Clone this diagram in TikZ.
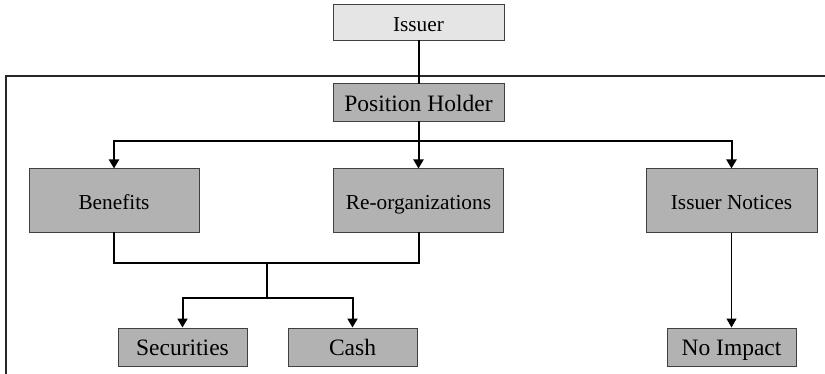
\documentclass[tikz,border=0pt]{standalone}
\usepackage{fontspec}
\setmainfont{Liberation Serif}
\usepackage{tikz}
\usepackage{xcolor}
\usetikzlibrary{arrows.meta}

\tikzset{
  box/.style={draw=black!75, line width=1pt, fill=black!30, inner sep=0pt,
    text height=17pt, text depth=0pt},
  smalltext/.style={font=\fontsize{21.3}{24}\selectfont},
  bigtext/.style={font=\fontsize{23.5}{26}\selectfont},
  conn/.style={line width=2pt, line cap=rect},
  arr/.style={line width=2pt, -{Triangle[width=10pt,length=9pt]}},
  thinarr/.style={line width=1.1pt, -{Triangle[width=10pt,length=9pt]}}
}

\begin{document}
\begin{tikzpicture}[x=1pt,y=-1pt]

\useasboundingbox (0,0) rectangle (825,374);

% frame
\draw[line width=1.3pt, black!85] (6,374) -- (6,76) -- (825,76);

\node[box, smalltext, fill=black!10, minimum width=171, minimum height=36] (issuer) at (418.5,23) {Issuer};
\node[box, bigtext, minimum width=171, minimum height=38] (holder) at (418.5,103) {Position Holder};

\node[box, smalltext, minimum width=170, minimum height=64] (benefits) at (114,201) {Benefits};
\node[box, smalltext, minimum width=170, minimum height=64] (reorg) at (418.5,201) {Re-organizations};
\node[box, smalltext, minimum width=171, minimum height=64] (notices) at (731.5,201) {Issuer Notices};

\node[box, bigtext, minimum width=129, minimum height=38] (securities) at (182.5,347) {Securities};
\node[box, bigtext, minimum width=129, minimum height=38] (cash) at (352.5,347) {Cash};
\node[box, bigtext, minimum width=129, minimum height=38] (noimpact) at (731.5,347) {No Impact};

\coordinate (split) at (418.5,141);
\coordinate (merge) at (267,263);
\coordinate (fork) at (267,298);

\draw[conn] (issuer) -- (holder);
\draw[conn] (holder) -- (split);
\draw[arr] (split) -| (benefits);
\draw[arr] (split) -- (reorg);
\draw[arr] (split) -| (notices);

\draw[conn] (benefits) |- (merge);
\draw[conn] (reorg) |- (merge);
\draw[conn] (merge) -- (fork);
\draw[arr] (fork) -| (securities);
\draw[arr] (fork) -| (cash);

\draw[thinarr] (notices) -- (noimpact);

\end{tikzpicture}
\end{document}
